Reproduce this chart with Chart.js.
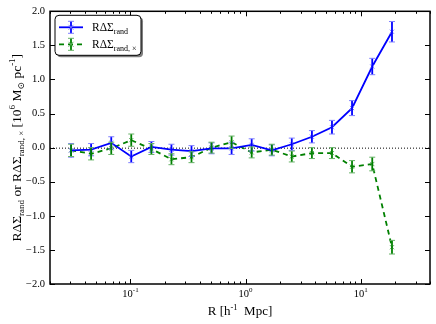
<!DOCTYPE html>
<html>
<head>
<meta charset="utf-8">
<script src="https://cdn.jsdelivr.net/npm/chart.js@4"></script>
<style>
  html, body { margin: 0; padding: 0; background: #fff; }
  #wrap { width: 436px; height: 324px; }
</style>
</head>
<body>
<div id="wrap"><canvas id="myChart" width="436" height="324"></canvas></div>
<script>
// R bins [h^-1 Mpc]
const radii = [0.0305, 0.0455, 0.0681, 0.1016, 0.152, 0.227, 0.339, 0.506, 0.756,
               1.13, 1.69, 2.52, 3.77, 5.63, 8.41, 12.6, 18.7];
// R*DeltaSigma_rand
const randVals = [-0.04, -0.03, 0.07, -0.13, 0.01, -0.03, -0.05, -0.01, -0.01,
                  0.04, -0.04, 0.05, 0.16, 0.30, 0.58, 1.19, 1.70];
const randErr = [0.10, 0.09, 0.09, 0.09, 0.08, 0.08, 0.08, 0.08, 0.09,
                 0.09, 0.08, 0.09, 0.09, 0.10, 0.11, 0.12, 0.15];
// R*DeltaSigma_rand,x (cross component)
const crossVals = [-0.04, -0.09, -0.01, 0.11, -0.02, -0.17, -0.14, 0.00, 0.08,
                   -0.07, -0.03, -0.13, -0.08, -0.08, -0.28, -0.24, -1.46];
const crossErr = [0.09, 0.09, 0.09, 0.09, 0.08, 0.08, 0.08, 0.08, 0.09,
                  0.08, 0.08, 0.08, 0.08, 0.08, 0.09, 0.10, 0.10];

const xTickLabels = { 0.1: '10', 1: '10', 10: '10' };
const xTickExps = { 0.1: '-1', 1: '0', 10: '1' };
const yTicks = [-2.0, -1.5, -1.0, -0.5, 0.0, 0.5, 1.0, 1.5, 2.0];

const SERIF = '"Liberation Serif", "DejaVu Serif", serif';
const BLUE = '#0000ff';
const GREEN = '#008000';

function pts(xs, ys) {
    return xs.map((x, i) => ({ x: x, y: ys[i] }));
}

// error bars, zero line, frame and inward ticks
const decorPlugin = {
    id: 'decor',
    beforeDatasetsDraw(chart) {
        const ctx = chart.ctx, a = chart.chartArea, ys = chart.scales.y;
        const y0 = ys.getPixelForValue(0);
        ctx.save();
        ctx.strokeStyle = '#000';
        ctx.lineWidth = 1;
        ctx.setLineDash([1, 2]);
        ctx.beginPath();
        ctx.moveTo(a.left, y0 + 0.5);
        ctx.lineTo(a.right, y0 + 0.5);
        ctx.stroke();
        ctx.restore();
    },
    afterDatasetsDraw(chart) {
        const ctx = chart.ctx, ys = chart.scales.y;
        const errs = [randErr, crossErr];
        const caps = ['#7f7fff', '#66b266'];
        chart.data.datasets.forEach((ds, di) => {
            const meta = chart.getDatasetMeta(di);
            meta.data.forEach((el, i) => {
                const v = ds.data[i].y, e = errs[di][i];
                const top = ys.getPixelForValue(v + e);
                const bot = ys.getPixelForValue(v - e);
                ctx.save();
                ctx.strokeStyle = ds.borderColor;
                ctx.lineWidth = 1.8;
                ctx.beginPath();
                ctx.moveTo(el.x, top);
                ctx.lineTo(el.x, bot);
                ctx.stroke();
                ctx.strokeStyle = caps[di];
                ctx.lineWidth = 1;
                ctx.beginPath();
                ctx.moveTo(el.x - 3, top); ctx.lineTo(el.x + 3, top);
                ctx.moveTo(el.x - 3, bot); ctx.lineTo(el.x + 3, bot);
                ctx.stroke();
                ctx.restore();
            });
        });
    },
    afterDraw(chart) {
        const ctx = chart.ctx, a = chart.chartArea;
        const xs = chart.scales.x, ys = chart.scales.y;
        ctx.save();
        ctx.strokeStyle = '#000';
        ctx.lineWidth = 1;
        ctx.beginPath();
        // x ticks (log, major at decades, minor between)
        for (let d = -2; d <= 1; d++) {
            for (let m = 1; m <= 9; m++) {
                const v = m * Math.pow(10, d);
                if (v < xs.min || v > xs.max) continue;
                const px = Math.round(xs.getPixelForValue(v)) + 0.5;
                const len = m === 1 ? 5 : 2.5;
                ctx.moveTo(px, a.bottom); ctx.lineTo(px, a.bottom - len);
                ctx.moveTo(px, a.top); ctx.lineTo(px, a.top + len);
            }
        }
        yTicks.forEach(v => {
            const py = Math.round(ys.getPixelForValue(v)) + 0.5;
            ctx.moveTo(a.left, py); ctx.lineTo(a.left + 5, py);
            ctx.moveTo(a.right, py); ctx.lineTo(a.right - 5, py);
        });
        ctx.stroke();
        ctx.lineWidth = 1.5;
        ctx.strokeRect(a.left, a.top, a.right - a.left, a.bottom - a.top);

        // x tick labels with superscript exponent
        ctx.fillStyle = '#000';
        ctx.textBaseline = 'alphabetic';
        Object.keys(xTickLabels).forEach(k => {
            const v = parseFloat(k);
            const px = xs.getPixelForValue(v);
            ctx.font = '10.5px ' + SERIF;
            const w1 = ctx.measureText(xTickLabels[k]).width;
            ctx.font = '7px ' + SERIF;
            const w2 = ctx.measureText(xTickExps[k]).width;
            let x0 = px - (w1 + w2) / 2;
            ctx.font = '10.5px ' + SERIF;
            ctx.fillText(xTickLabels[k], x0, a.bottom + 13);
            ctx.font = '7px ' + SERIF;
            ctx.fillText(xTickExps[k], x0 + w1, a.bottom + 8);
        });

        // legend
        drawLegend(ctx, a);

        // axis titles
        drawRich(ctx, [
            ['R [h', 13, 0], ['-1', 8.5, -5], ['  Mpc]', 13, 0]
        ], (a.left + a.right) / 2, 311, 0);
        drawRich(ctx, [
            ['RΔΣ', 13.5, 0], ['rand', 9, 3], [' or RΔΣ', 13.5, 0], ['rand, ×', 9, 3],
            [' [10', 13.5, 0], ['6', 9, -6], [' M', 13.5, 0], ['⊙', 9, 3],
            [' pc', 13.5, 0], ['-1', 9, -6], [']', 13.5, 0]
        ], 17, (a.top + a.bottom) / 2, -Math.PI / 2);
        ctx.restore();
    }
};

function drawRich(ctx, parts, cx, cy, rot) {
    ctx.save();
    let total = 0;
    parts.forEach(p => { ctx.font = p[1] + 'px ' + SERIF; total += ctx.measureText(p[0]).width; });
    ctx.translate(cx, cy);
    ctx.rotate(rot);
    ctx.fillStyle = '#000';
    ctx.textBaseline = 'alphabetic';
    let x = -total / 2;
    parts.forEach(p => {
        ctx.font = p[1] + 'px ' + SERIF;
        ctx.fillText(p[0], x, 4 + p[2]);
        x += ctx.measureText(p[0]).width;
    });
    ctx.restore();
}

function drawLegend(ctx, a) {
    const bx = a.left + 5, by = a.top + 4, bw = 86, bh = 40;
    ctx.save();
    ctx.fillStyle = '#7f7f7f';
    roundRect(ctx, bx + 2, by + 2, bw, bh, 4);
    ctx.fill();
    ctx.fillStyle = '#fff';
    ctx.strokeStyle = '#000';
    ctx.lineWidth = 1;
    roundRect(ctx, bx, by, bw, bh, 4);
    ctx.fill();
    ctx.stroke();
    const rows = [
        { color: BLUE, cap: '#7f7fff', dash: [], y: by + 12, sub: 'rand' },
        { color: GREEN, cap: '#66b266', dash: [5, 4], y: by + 29, sub: 'rand, ×' }
    ];
    rows.forEach(r => {
        const x1 = bx + 4, x2 = bx + 28, xm = (x1 + x2) / 2;
        ctx.strokeStyle = r.color;
        ctx.lineWidth = 1.8;
        ctx.setLineDash(r.dash);
        ctx.beginPath();
        ctx.moveTo(x1, r.y); ctx.lineTo(x2, r.y);
        ctx.stroke();
        ctx.setLineDash([]);
        ctx.beginPath();
        ctx.moveTo(xm, r.y - 6); ctx.lineTo(xm, r.y + 6);
        ctx.stroke();
        ctx.strokeStyle = r.cap;
        ctx.lineWidth = 1;
        ctx.beginPath();
        ctx.moveTo(xm - 3, r.y - 6); ctx.lineTo(xm + 3, r.y - 6);
        ctx.moveTo(xm - 3, r.y + 6); ctx.lineTo(xm + 3, r.y + 6);
        ctx.moveTo(xm - 2.5, r.y - 2.5); ctx.lineTo(xm + 2.5, r.y + 2.5);
        ctx.moveTo(xm - 2.5, r.y + 2.5); ctx.lineTo(xm + 2.5, r.y - 2.5);
        ctx.stroke();
        ctx.fillStyle = '#000';
        ctx.font = '11.5px ' + SERIF;
        ctx.textBaseline = 'alphabetic';
        const tx = bx + 37;
        ctx.fillText('RΔΣ', tx, r.y + 4);
        const w = ctx.measureText('RΔΣ').width;
        ctx.font = '8px ' + SERIF;
        ctx.fillText(r.sub, tx + w, r.y + 7);
    });
    ctx.restore();
}

function roundRect(ctx, x, y, w, h, r) {
    ctx.beginPath();
    ctx.moveTo(x + r, y);
    ctx.lineTo(x + w - r, y);
    ctx.quadraticCurveTo(x + w, y, x + w, y + r);
    ctx.lineTo(x + w, y + h - r);
    ctx.quadraticCurveTo(x + w, y + h, x + w - r, y + h);
    ctx.lineTo(x + r, y + h);
    ctx.quadraticCurveTo(x, y + h, x, y + h - r);
    ctx.lineTo(x, y + r);
    ctx.quadraticCurveTo(x, y, x + r, y);
    ctx.closePath();
}

const ctx = document.getElementById('myChart');
new Chart(ctx, {
    type: 'scatter',
    data: {
        datasets: [{
            label: 'RΔΣ rand',
            data: pts(radii, randVals),
            showLine: true,
            borderColor: BLUE,
            backgroundColor: BLUE,
            borderWidth: 1.8,
            pointStyle: 'crossRot',
            pointRadius: 3,
            pointBorderColor: '#7f7fff',
            pointBorderWidth: 1,
            tension: 0
        }, {
            label: 'RΔΣ rand,x',
            data: pts(radii, crossVals),
            showLine: true,
            borderColor: GREEN,
            backgroundColor: GREEN,
            borderWidth: 1.8,
            borderDash: [5, 4],
            pointStyle: 'crossRot',
            pointRadius: 3,
            pointBorderColor: '#66b266',
            pointBorderWidth: 1,
            tension: 0
        }]
    },
    options: {
        responsive: false,
        animation: false,
        layout: { padding: { left: 0, top: 10, right: 6, bottom: 0 } },
        plugins: {
            legend: { display: false },
            tooltip: { enabled: false }
        },
        scales: {
            x: {
                type: 'logarithmic',
                min: 0.02,
                max: 40,
                grid: { display: false, drawTicks: false },
                border: { display: false },
                ticks: { display: false },
                afterFit(scale) { scale.height = 40; }
            },
            y: {
                min: -2,
                max: 2,
                grid: { display: false, drawTicks: false },
                border: { display: false },
                ticks: {
                    stepSize: 0.5,
                    padding: 5,
                    color: '#000',
                    font: { family: SERIF, size: 10.5 },
                    callback: v => (v < 0 ? '\u2212' : '') + Math.abs(v).toFixed(1)
                },
                afterFit(scale) { scale.width = 50; }
            }
        }
    },
    plugins: [decorPlugin]
});
</script>
</body>
</html>
